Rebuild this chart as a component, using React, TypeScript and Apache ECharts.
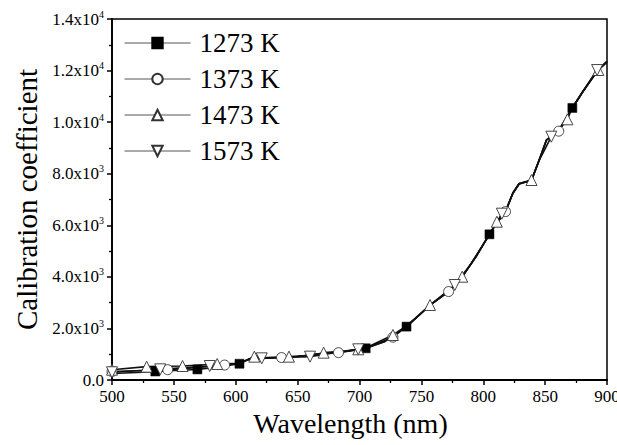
import React, { useEffect, useRef } from "react";
import * as echarts from "echarts";

// ---- data ----
const seriesNames = ["1273 K", "1373 K", "1473 K", "1573 K"];

const wl1273 = [500, 520, 535, 550, 569, 585, 603, 610, 615, 621, 637, 650, 671, 690, 705, 720, 738, 757, 772, 783, 795, 805, 812, 818, 824, 829, 839, 845, 851, 861, 872, 880, 892, 900];
const val1273 = [250, 290, 330, 370, 410, 500, 630, 790, 880, 850, 870, 910, 1040, 1120, 1230, 1480, 2070, 2900, 3430, 4000, 4850, 5650, 6150, 6530, 7250, 7600, 7750, 8500, 9300, 9700, 10550, 11150, 12000, 12350];
const mark1273 = [535, 569, 603, 705, 738, 805, 872];

const wl1373 = [500, 520, 545, 570, 591, 603, 610, 615, 621, 637, 650, 671, 683, 699, 705, 727, 738, 757, 772, 783, 795, 805, 812, 818, 824, 829, 839, 845, 851, 861, 872, 880, 892, 900];
const val1373 = [330, 360, 400, 490, 580, 640, 800, 880, 850, 870, 910, 1040, 1060, 1170, 1230, 1660, 2070, 2900, 3430, 4000, 4850, 5650, 6150, 6530, 7250, 7620, 7740, 8500, 9300, 9650, 10550, 11150, 11980, 12330];
const mark1373 = [500, 545, 591, 637, 683, 727, 772, 818, 861];

const wl1473 = [500, 528, 557, 585, 603, 615, 621, 643, 660, 671, 685, 699, 705, 727, 738, 757, 772, 783, 795, 805, 811, 818, 824, 829, 839, 845, 851, 861, 868, 872, 880, 893, 900];
const val1473 = [400, 517, 543, 620, 650, 905, 860, 905, 950, 1060, 1100, 1190, 1240, 1745, 2100, 2909, 3450, 4006, 4850, 5660, 6139, 6560, 7250, 7620, 7756, 8500, 9300, 9680, 10110, 10560, 11150, 12022, 12360];
const mark1473 = [500, 528, 557, 585, 615, 643, 671, 699, 727, 757, 783, 811, 839, 868, 893];

const wl1573 = [500, 520, 539, 560, 579, 603, 610, 621, 637, 660, 680, 699, 705, 720, 738, 757, 777, 790, 805, 815, 818, 824, 829, 839, 845, 855, 861, 872, 880, 892, 900];
const val1573 = [300, 360, 415, 480, 543, 640, 790, 840, 870, 905, 1060, 1190, 1230, 1480, 2070, 2900, 3684, 4500, 5650, 6450, 6530, 7250, 7600, 7750, 8500, 9435, 9650, 10550, 11150, 12020, 12350];
const mark1573 = [500, 539, 579, 621, 660, 699, 777, 815, 855, 892];

const xTicks = [500, 550, 600, 650, 700, 750, 800, 850, 900];
const yTickMantissa = ["0.0", "2.0", "4.0", "6.0", "8.0", "1.0", "1.2", "1.4"];
const yTickExp = ["", "3", "3", "3", "3", "4", "4", "4"];

const SERIF = "'Liberation Serif', 'Times New Roman', serif";

function build(wl: number[], vals: number[], marks: number[]) {
  return wl.map((x, i) => {
    const shown = marks.indexOf(x) >= 0;
    return shown ? { value: [x, vals[i]] } : { value: [x, vals[i]], symbol: "none" };
  });
}

export default function App() {
  const ref = useRef<HTMLDivElement>(null);
  useEffect(() => {
    if (!ref.current) return;
    const chart = echarts.init(ref.current, undefined, { renderer: "svg" });
    const emptyStyle = { color: "#fff", borderColor: "#333", borderWidth: 0.9 };
    const lineStyle = { color: "#111", width: 1.6 };
    const common = {
      type: "line" as const,
      showSymbol: true,
      showAllSymbol: true,
      lineStyle,
    };
    chart.setOption({
      animation: false,
      backgroundColor: "#fff",
      grid: {
        left: 112,
        right: 10,
        top: 19,
        bottom: 65,
        show: true,
        borderColor: "#000",
        borderWidth: 1.5,
        outerBoundsMode: "none",
        containLabel: false,
      },
      legend: {
        orient: "vertical",
        left: 124,
        top: 29,
        padding: 0,
        itemWidth: 66,
        itemHeight: 13,
        itemGap: 8,
        data: seriesNames,
        lineStyle: { color: "#555", width: 1 },
        textStyle: { fontFamily: SERIF, fontSize: 27, color: "#000", lineHeight: 28, padding: [0, 0, 0, 4] },
      },
      xAxis: {
        type: "value",
        min: xTicks[0],
        max: xTicks[xTicks.length - 1],
        interval: 50,
        name: "Wavelength (nm)",
        nameLocation: "middle",
        nameGap: 28,
        nameTextStyle: { fontFamily: SERIF, fontSize: 28, color: "#000", padding: [0, 18, 0, 0] },
        axisLine: { lineStyle: { color: "#000", width: 1.8 } },
        axisTick: { inside: false, length: 5, lineStyle: { color: "#000", width: 1.5 } },
        minorTick: { show: true, splitNumber: 2, length: 3, lineStyle: { color: "#000", width: 1.3 } },
        axisLabel: { fontFamily: SERIF, fontSize: 17, color: "#000", margin: 8 },
        splitLine: { show: false },
      },
      yAxis: {
        type: "value",
        min: 0,
        max: 14000,
        interval: 2000,
        name: "Calibration coefficient",
        nameLocation: "middle",
        nameGap: 71,
        nameTextStyle: { fontFamily: SERIF, fontSize: 29, color: "#000" },
        axisLine: { lineStyle: { color: "#000", width: 1.8 } },
        axisTick: { inside: false, length: 5, lineStyle: { color: "#000", width: 1.5 } },
        minorTick: { show: true, splitNumber: 2, length: 3, lineStyle: { color: "#000", width: 1.3 } },
        axisLabel: {
          margin: 8,
          formatter: (v: number) => {
            const i = Math.round(v / 2000);
            if (!yTickExp[i]) return `{m|${yTickMantissa[i]}}`;
            return `{m|${yTickMantissa[i]}x10}{s|${yTickExp[i]}}`;
          },
          rich: {
            m: { fontFamily: SERIF, fontSize: 17, color: "#000", lineHeight: 20 },
            s: { fontFamily: SERIF, fontSize: 10, color: "#000", verticalAlign: "top", lineHeight: 12 },
          },
        },
        splitLine: { show: false },
      },
      series: [
        {
          ...common,
          name: seriesNames[0],
          symbol: "rect",
          symbolSize: 9,
          itemStyle: { color: "#000", borderColor: "#000", borderWidth: 0.5 },
          data: build(wl1273, val1273, mark1273),
        },
        {
          ...common,
          name: seriesNames[1],
          symbol: "circle",
          symbolSize: 10,
          itemStyle: emptyStyle,
          data: build(wl1373, val1373, mark1373),
        },
        {
          ...common,
          name: seriesNames[2],
          symbol: "triangle",
          symbolSize: 11,
          itemStyle: emptyStyle,
          data: build(wl1473, val1473, mark1473),
        },
        {
          ...common,
          name: seriesNames[3],
          symbol: "triangle",
          symbolRotate: 180,
          symbolSize: 11,
          itemStyle: emptyStyle,
          data: build(wl1573, val1573, mark1573),
        },
      ],
    });
    return () => chart.dispose();
  }, []);
  return <div ref={ref} style={{ width: 617, height: 445, position: "absolute", left: 0, top: 0 }} />;
}
